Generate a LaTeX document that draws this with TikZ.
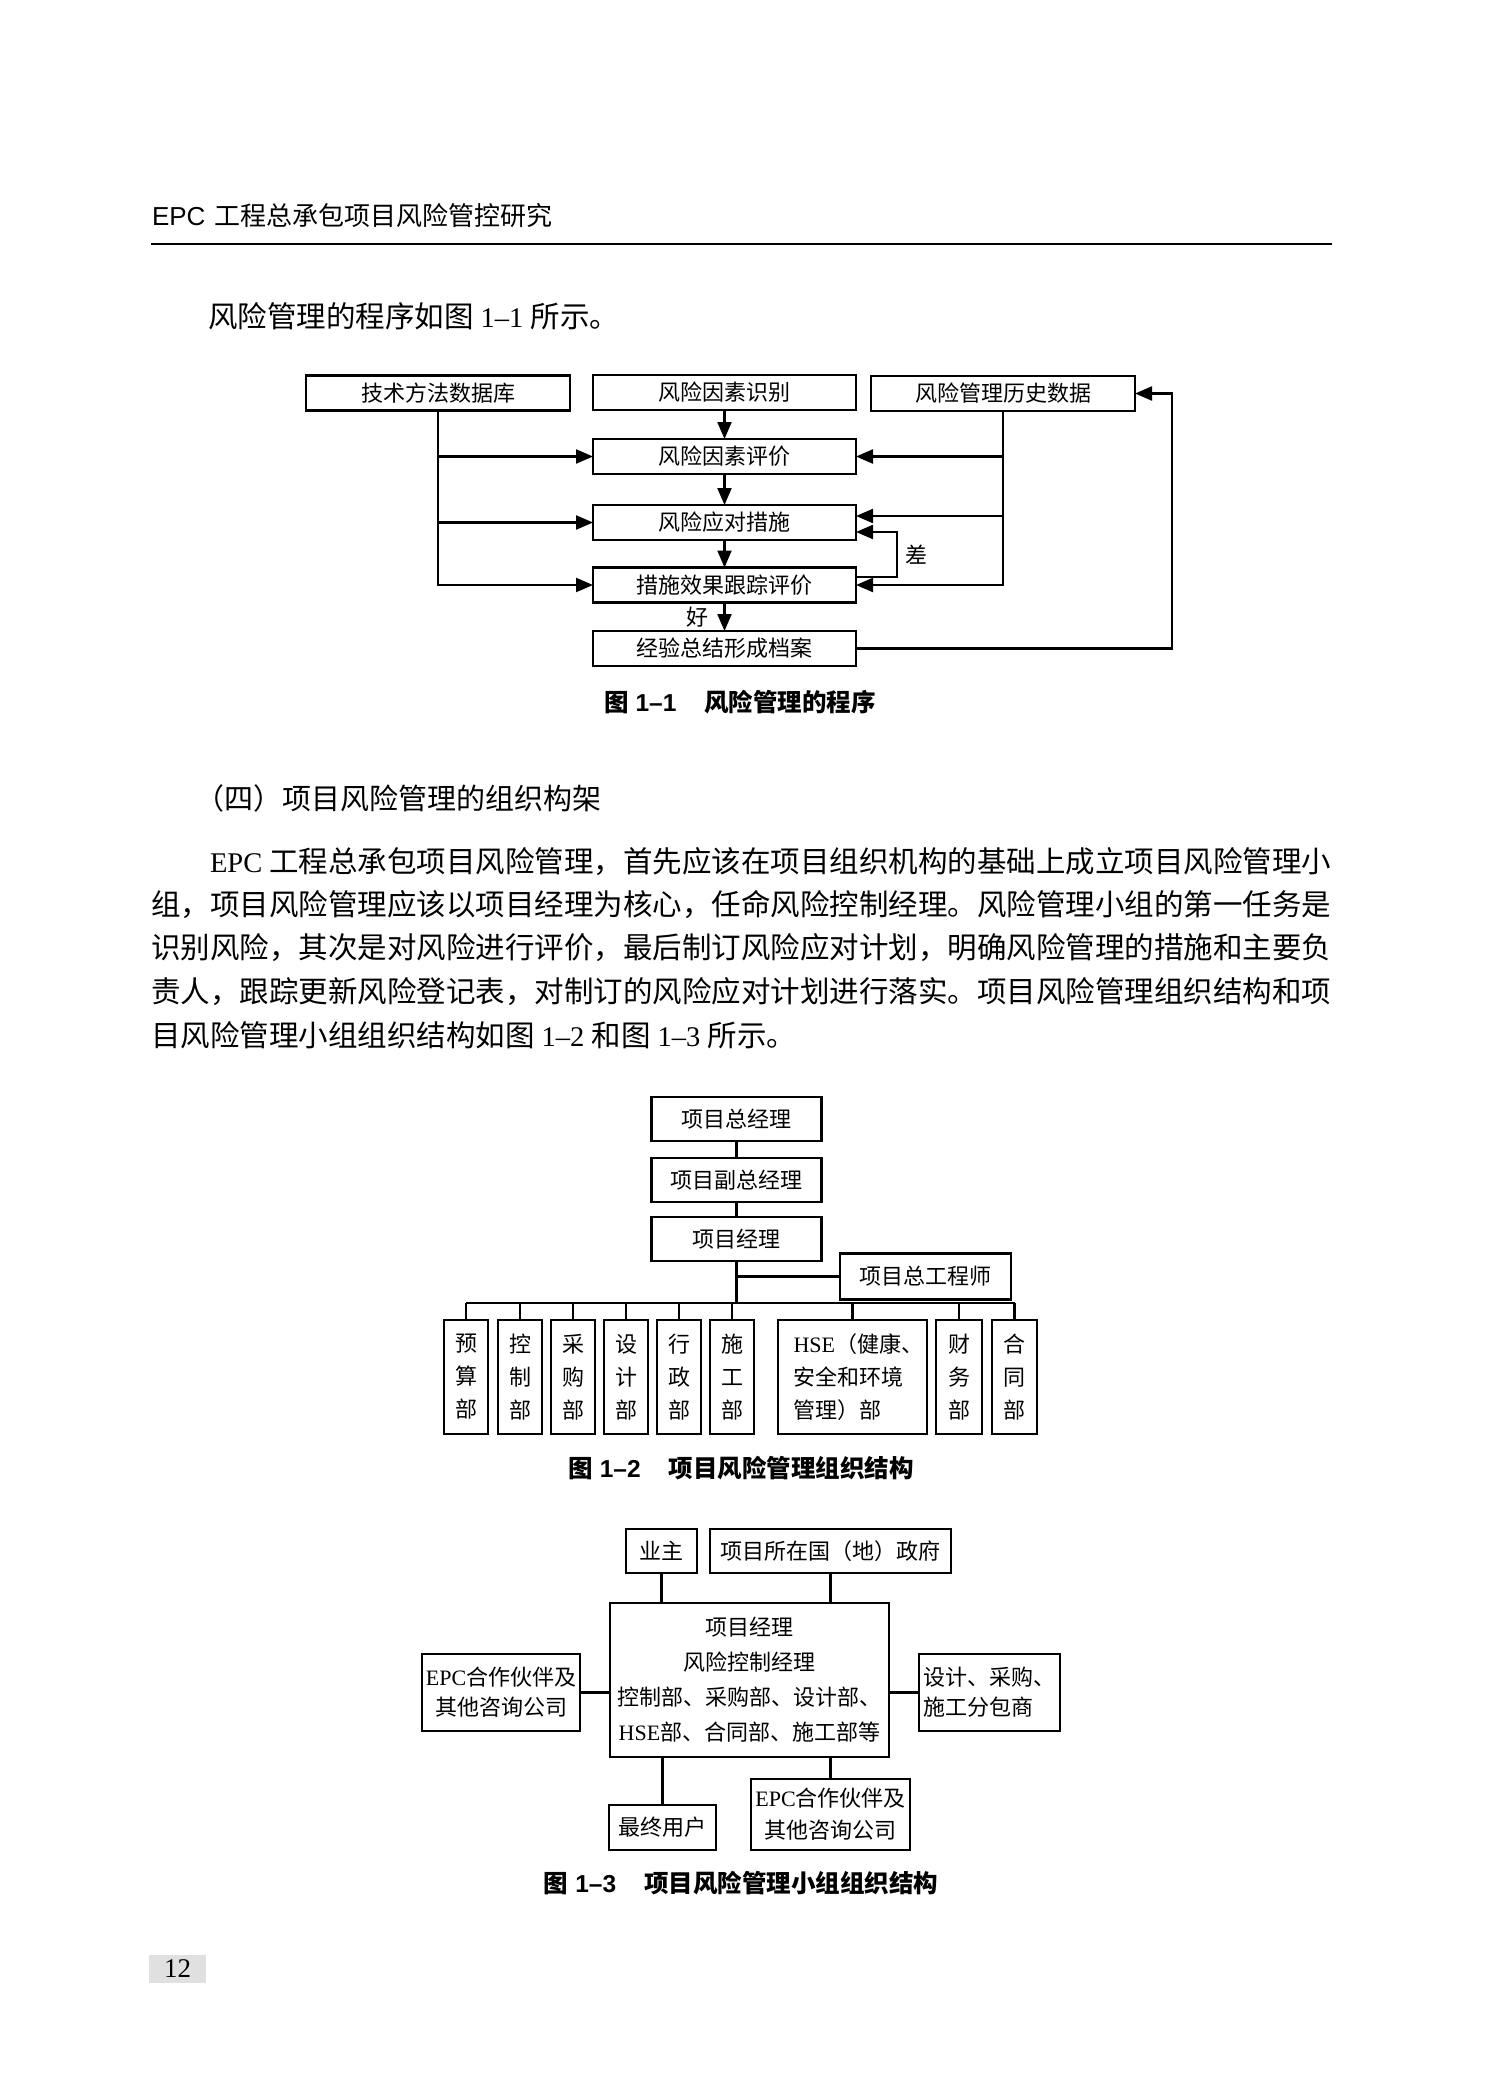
\documentclass[tikz,border=0pt]{standalone}
\usepackage{fontspec}
\setmainfont{Liberation Serif}
\setsansfont{Liberation Sans}
\newfontfamily\cjk{Noto Sans CJK SC}
\usetikzlibrary{arrows.meta}
\newcommand\latb[1]{{\fontsize{28.5}{30}\selectfont #1}}
\begin{document}
\begin{tikzpicture}[x=1pt,y=-1pt,
  every node/.style={inner sep=0pt, outer sep=0pt},
  fbox/.style={draw, line width=2.2pt, font=\cjk\fontsize{22}{26}\selectfont},
  conn/.style={line width=2.2pt},
  arr/.style={conn, -{Triangle[length=17pt,width=14pt]}},
  lbl/.style={font=\cjk\fontsize{22}{26}\selectfont},
  bodyline/.style={anchor=west, font=\fontsize{29.5}{30}\selectfont},
  figcap/.style={font=\fontsize{24.5}{26}\selectfont\bfseries},
  dept/.style={fbox, minimum height=114pt, align=center, font=\cjk\fontsize{22}{33}\selectfont}
]
\fill[white] (0,0) rectangle (1504,2095);
\useasboundingbox (0,0) rectangle (1504,2095);

% ---------- header ----------
\node[anchor=west, font=\fontsize{26}{28}\selectfont] (hdr) at (152,216) {\sffamily EPC\hspace{9pt}\cjk 工程总承包项目风险管控研究};
\draw[line width=2.6pt] (151,244) -- (1332,244);

\node[bodyline] (intro) at (208,316) {{\cjk 风险管理的程序如图}\latb{ 1–1 }{\cjk 所示。}};

% ---------- figure 1-1 ----------
\node[fbox, minimum width=264pt, minimum height=35pt] (tech) at (438,393) {技术方法数据库};
\node[fbox, minimum width=263pt, minimum height=35pt] (ident) at (724.5,392.5) {风险因素识别};
\node[fbox, minimum width=264pt, minimum height=35pt] (hist) at (1003,393.5) {风险管理历史数据};
\node[fbox, minimum width=263pt, minimum height=35pt] (eval) at (724.5,456.5) {风险因素评价};
\node[fbox, minimum width=263pt, minimum height=35pt] (resp) at (724.5,522.5) {风险应对措施};
\node[fbox, minimum width=263pt, minimum height=35pt] (track) at (724.5,585) {措施效果跟踪评价};
\node[fbox, minimum width=263pt, minimum height=35pt] (arch) at (724.5,648.5) {经验总结形成档案};

\draw[arr] (ident.south) -- (eval.north);
\draw[arr] (eval.south) -- (resp.north);
\draw[arr] (resp.south) -- (track.north);
\draw[arr] (track.south) -- (arch.north);

\draw[arr] (tech.south) |- (track.west);
\draw[arr] (tech.south |- eval.west) -- (eval.west);
\draw[arr] (tech.south |- resp.west) -- (resp.west);

\draw[arr] (hist.south) |- (track.east);
\draw[arr] (hist.south |- eval.east) -- (eval.east);
\coordinate (rA) at ([yshift=6.5pt]resp.east);
\coordinate (rB) at ([yshift=-9.5pt]resp.east);
\coordinate (tA) at ([yshift=8pt]track.east);
\draw[arr] (hist.south |- rA) -- (rA);
\draw[arr] (tA) -- ++(41,0) |- (rB);
\node[lbl] (cha) at (916,555) {差};
\node[lbl] (hao) at (697,617) {好};
\draw[arr] (arch.east) -- ++(316,0) |- (hist.east);

\node[figcap] (cap1) at (740,702) {{\cjk 图}\hspace{7pt}{\sffamily 1–1}\hspace{28pt}{\cjk 风险管理的程序}};

% ---------- section text ----------
\node[anchor=west, font=\cjk\fontsize{29}{30}\selectfont] (h4) at (195,798) {（四）项目风险管理的组织构架};

\node[bodyline] (p1) at (210,862) {\latb{EPC }{\cjk 工程总承包项目风险管理，首先应该在项目组织机构的基础上成立项目风险管理小}};
\node[bodyline] (p2) at (151,905) {{\cjk 组，项目风险管理应该以项目经理为核心，任命风险控制经理。风险管理小组的第一任务是}};
\node[bodyline] (p3) at (151,948) {{\cjk 识别风险，其次是对风险进行评价，最后制订风险应对计划，明确风险管理的措施和主要负}};
\node[bodyline] (p4) at (151,992) {{\cjk 责人，跟踪更新风险登记表，对制订的风险应对计划进行落实。项目风险管理组织结构和项}};
\node[bodyline] (p5) at (151,1035) {{\cjk 目风险管理小组组织结构如图}\latb{ 1–2 }{\cjk 和图}\latb{ 1–3 }{\cjk 所示。}};

% ---------- figure 1-2 ----------
\node[fbox, minimum width=170pt, minimum height=44pt] (gm) at (736.5,1119) {项目总经理};
\node[fbox, minimum width=170pt, minimum height=44pt] (dgm) at (736.5,1180) {项目副总经理};
\node[fbox, minimum width=170pt, minimum height=44pt] (pm) at (736.5,1239) {项目经理};
\node[fbox, minimum width=171pt, minimum height=46pt] (ce) at (925.5,1276.5) {项目总工程师};

\node[dept, minimum width=44pt] (d1) at (466,1377) {预\\算\\部};
\node[dept, minimum width=44pt] (d2) at (520,1377) {控\\制\\部};
\node[dept, minimum width=44pt] (d3) at (573,1377) {采\\购\\部};
\node[dept, minimum width=44pt] (d4) at (626,1377) {设\\计\\部};
\node[dept, minimum width=44pt] (d5) at (679,1377) {行\\政\\部};
\node[dept, minimum width=44pt] (d6) at (732,1377) {施\\工\\部};
\node[dept, minimum width=149pt, text width=118pt, align=left] (d7) at (852.5,1377) {{\rmfamily HSE}（健康、\\安全和环境\\管理）部};
\node[dept, minimum width=46pt] (d8) at (959,1377) {财\\务\\部};
\node[dept, minimum width=45pt] (d9) at (1014.5,1377) {合\\同\\部};

\coordinate (bus) at (736.5,1303);
\draw[conn] (gm.south) -- (dgm.north);
\draw[conn] (dgm.south) -- (pm.north);
\draw[conn] (pm.south) -- (bus);
\draw[conn] (pm.south |- ce.west) -- (ce.west);
\draw[conn] (d1.north |- bus) -- (d9.north |- bus);
\foreach \d in {d1,d2,d3,d4,d5,d6,d7,d8,d9} {
  \draw[conn] (\d.north) -- (\d.north |- bus);
}

\node[figcap] (cap2) at (741,1468) {{\cjk 图}\hspace{7pt}{\sffamily 1–2}\hspace{28pt}{\cjk 项目风险管理组织结构}};

% ---------- figure 1-3 ----------
\node[fbox, minimum width=71pt, minimum height=44pt] (owner) at (661.5,1551) {业主};
\node[fbox, minimum width=241pt, minimum height=44pt] (gov) at (830.5,1551) {项目所在国（地）政府};
\node[fbox, minimum width=279pt, minimum height=154pt, align=center, font=\cjk\fontsize{22}{35}\selectfont] (core) at (749.5,1680)
  {项目经理\\风险控制经理\\控制部、采购部、设计部、\\{\rmfamily HSE}部、合同部、施工部等};
\node[fbox, minimum width=158pt, minimum height=77pt, align=center, font=\cjk\fontsize{22}{30}\selectfont] (lepc) at (501,1692.5)
  {{\rmfamily EPC}合作伙伴及\\其他咨询公司};
\node[fbox, minimum width=141pt, minimum height=77pt, align=left, font=\cjk\fontsize{22}{30}\selectfont] (sub) at (989.5,1692.5)
  {设计、采购、\\施工分包商};
\node[fbox, minimum width=107pt, minimum height=45pt] (user) at (662.5,1827.5) {最终用户};
\node[fbox, minimum width=159pt, minimum height=71pt, align=center, font=\cjk\fontsize{22}{32}\selectfont] (bepc) at (830.5,1814.5)
  {{\rmfamily EPC}合作伙伴及\\其他咨询公司};

\draw[conn] (owner.south) -- (owner.south |- core.north);
\draw[conn] (gov.south) -- (gov.south |- core.north);
\draw[conn] (lepc.east) -- (core.west |- lepc.east);
\draw[conn] (sub.west) -- (core.east |- sub.west);
\draw[conn] (user.north) -- (user.north |- core.south);
\draw[conn] (bepc.north) -- (bepc.north |- core.south);

\node[figcap] (cap3) at (741,1883) {{\cjk 图}\hspace{7pt}{\sffamily 1–3}\hspace{28pt}{\cjk 项目风险管理小组组织结构}};

% ---------- page number ----------
\node[fill=black!12, minimum width=57pt, minimum height=28pt, font=\fontsize{27}{28}\selectfont] (pg) at (177.5,1969) {12};
\end{tikzpicture}
\end{document}
